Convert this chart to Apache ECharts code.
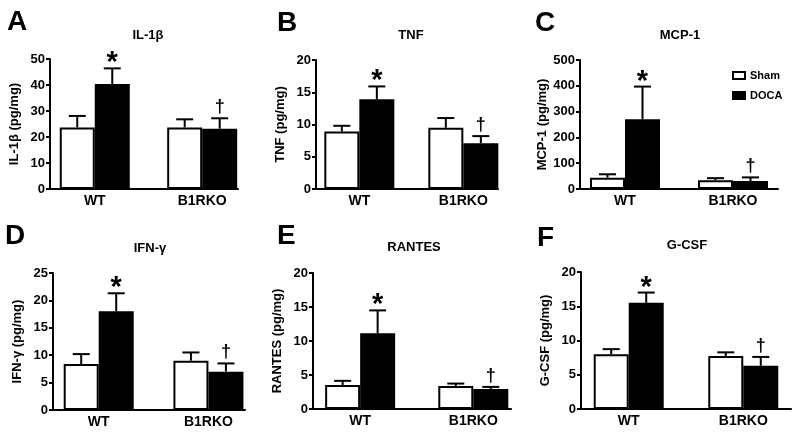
<!DOCTYPE html>
<html><head><meta charset="utf-8">
<script src="https://cdn.jsdelivr.net/npm/echarts@6/dist/echarts.min.js"></script>
<style>html,body{margin:0;padding:0;background:#fff}#c{width:800px;height:437px}</style>
</head><body><div id="c"></div>
<script>
// ---- data ----
const groups = ['WT', 'B1RKO'];
const seriesNames = ['Sham', 'DOCA'];
const docaMarks = ['*', '†'];

const il1bSham = [23.7, 23.7];
const il1bShamSem = [4.4, 3.1];
const il1bDoca = [40.4, 23.2];
const il1bDocaSem = [6.0, 4.0];

const tnfSham = [8.9, 9.5];
const tnfShamSem = [0.9, 1.5];
const tnfDoca = [13.9, 7.1];
const tnfDocaSem = [2.0, 1.1];

const mcp1Sham = [44, 34];
const mcp1ShamSem = [13, 8];
const mcp1Doca = [270, 31];
const mcp1DocaSem = [127, 14];

const ifngSham = [8.4, 9.0];
const ifngShamSem = [1.8, 1.5];
const ifngDoca = [18.0, 7.0];
const ifngDocaSem = [3.3, 1.5];

const rantesSham = [3.54, 3.39];
const rantesShamSem = [0.6, 0.35];
const rantesDoca = [11.15, 2.95];
const rantesDocaSem = [3.35, 0.3];

const gcsfSham = [8.0, 7.72];
const gcsfShamSem = [0.74, 0.55];
const gcsfDoca = [15.5, 6.3];
const gcsfDocaSem = [1.5, 1.3];

const yTicksMax = [50, 20, 500, 25, 20, 20];
const yTicksStep = [10, 5, 100, 5, 5, 5];

const panels = [
  {letter:'A', title:'IL-1β', yName:'IL-1β (pg/mg)', sham:il1bSham, shamSem:il1bShamSem, doca:il1bDoca, docaSem:il1bDocaSem},
  {letter:'B', title:'TNF', yName:'TNF (pg/mg)', sham:tnfSham, shamSem:tnfShamSem, doca:tnfDoca, docaSem:tnfDocaSem},
  {letter:'C', title:'MCP-1', yName:'MCP-1 (pg/mg)', sham:mcp1Sham, shamSem:mcp1ShamSem, doca:mcp1Doca, docaSem:mcp1DocaSem},
  {letter:'D', title:'IFN-γ', yName:'IFN-γ (pg/mg)', sham:ifngSham, shamSem:ifngShamSem, doca:ifngDoca, docaSem:ifngDocaSem},
  {letter:'E', title:'RANTES', yName:'RANTES (pg/mg)', sham:rantesSham, shamSem:rantesShamSem, doca:rantesDoca, docaSem:rantesDocaSem},
  {letter:'F', title:'G-CSF', yName:'G-CSF (pg/mg)', sham:gcsfSham, shamSem:gcsfShamSem, doca:gcsfDoca, docaSem:gcsfDocaSem}
];

// ---- layout ----
const layout = [
  {left:50, right:238, top:59, bottom:189, xMax:4.2, titleX:148, titleY:35, letterX:7, letterY:8},
  {left:316, right:498, top:60, bottom:189, xMax:4.2, titleX:411, titleY:35, letterX:277, letterY:9},
  {left:580, right:778, top:60, bottom:189, xMax:4.4, titleX:680, titleY:35, letterX:535, letterY:9},
  {left:53, right:245, top:273, bottom:410, xMax:4.2, titleX:150, titleY:248, letterX:5, letterY:222},
  {left:313, right:511, top:273, bottom:409, xMax:4.2, titleX:414, titleY:247, letterX:277, letterY:222},
  {left:581, right:791, top:272, bottom:409, xMax:4.4, titleX:687, titleY:245, letterX:537, letterY:224}
];
const groupPos = [1, 3.4];
const BAR_W = 35;
const CAP_W = 17;
const FONT = '"Liberation Sans", Arial, Helvetica, sans-serif';

const chart = echarts.init(document.getElementById('c'), null, {renderer:'canvas'});
const option = {
  animation:false, backgroundColor:'#fff',
  grid:[], xAxis:[], yAxis:[], series:[], graphic:[],
  legend:{
    orient:'vertical', left:727, top:65, itemWidth:12, itemHeight:7, itemGap:9,
    icon:'rect', selectedMode:false, data:seriesNames,
    textStyle:{fontSize:11, fontWeight:'bold', color:'#000', fontFamily:FONT}
  }
};

function errSeries(i, means, sems, offset, marks) {
  return {
    type:'custom', xAxisIndex:i, yAxisIndex:i, silent:true, z:5,
    data: groupPos.map((x,k)=>[x, means[k], means[k] + sems[k]]),
    renderItem:(params, api)=>{
      const pm = api.coord([api.value(0), api.value(1)]);
      const ph = api.coord([api.value(0), api.value(2)]);
      const cx = pm[0] + offset;
      const ch = [
        {type:'line', shape:{x1:cx, y1:pm[1], x2:cx, y2:ph[1]}, style:{stroke:'#000', lineWidth:2}},
        {type:'line', shape:{x1:cx - CAP_W/2, y1:ph[1], x2:cx + CAP_W/2, y2:ph[1]}, style:{stroke:'#000', lineWidth:2}}
      ];
      const mk = marks ? marks[params.dataIndex] : '';
      if (mk === '*') {
        ch.push({type:'text', x:cx, y:ph[1] - 5, style:{text:mk, fill:'#000', font:'bold 29px ' + FONT, textAlign:'center', textVerticalAlign:'middle'}});
      } else if (mk) {
        ch.push({type:'text', x:cx, y:ph[1] - 11, style:{text:mk, fill:'#000', font:'bold 18px ' + FONT, textAlign:'center', textVerticalAlign:'middle'}});
      }
      return {type:'group', children:ch};
    }
  };
}

panels.forEach((p, i)=>{
  const L = layout[i];
  option.grid.push({left:L.left, top:L.top, width:L.right - L.left, height:L.bottom - L.top});
  option.xAxis.push({
    gridIndex:i, type:'value', min:0, max:L.xMax,
    axisLine:{show:true, lineStyle:{color:'#000', width:2}},
    axisTick:{show:false}, splitLine:{show:false},
    axisLabel:{customValues:groupPos, formatter:(v)=>{const k = groupPos.indexOf(v); return k >= 0 ? groups[k] : '';},
      color:'#000', fontWeight:'bold', fontSize:14, fontFamily:FONT, margin:5}
  });
  option.yAxis.push({
    gridIndex:i, type:'value', min:0, max:yTicksMax[i], interval:yTicksStep[i],
    name:p.yName, nameLocation:'middle', nameGap:29,
    nameTextStyle:{fontSize:13, fontWeight:'bold', color:'#000', fontFamily:FONT},
    axisLine:{show:true, lineStyle:{color:'#000', width:2}},
    axisTick:{show:true, length:4, lineStyle:{color:'#000', width:2}},
    splitLine:{show:false},
    axisLabel:{color:'#000', fontWeight:'bold', fontSize:13, fontFamily:FONT, margin:5}
  });
  option.series.push({
    type:'bar', name:seriesNames[0], xAxisIndex:i, yAxisIndex:i,
    data:groupPos.map((x,k)=>[x, p.sham[k]]), barWidth:BAR_W, barGap:'0%',
    itemStyle:{color:'#fff', borderColor:'#000', borderWidth:2}
  });
  option.series.push({
    type:'bar', name:seriesNames[1], xAxisIndex:i, yAxisIndex:i,
    data:groupPos.map((x,k)=>[x, p.doca[k]]), barWidth:BAR_W, barGap:'0%',
    itemStyle:{color:'#000', borderColor:'#000', borderWidth:2}
  });
  option.series.push(errSeries(i, p.sham, p.shamSem, -BAR_W/2, null));
  option.series.push(errSeries(i, p.doca, p.docaSem, BAR_W/2, docaMarks));
  option.graphic.push({type:'text', x:L.letterX, y:L.letterY, style:{text:p.letter, fill:'#000', font:'bold 28px ' + FONT, textVerticalAlign:'top'}});
  option.graphic.push({type:'text', x:L.titleX, y:L.titleY, style:{text:p.title, fill:'#000', font:'bold 13px ' + FONT, textAlign:'center', textVerticalAlign:'middle'}});
});
chart.setOption(option);
</script>
</body></html>
